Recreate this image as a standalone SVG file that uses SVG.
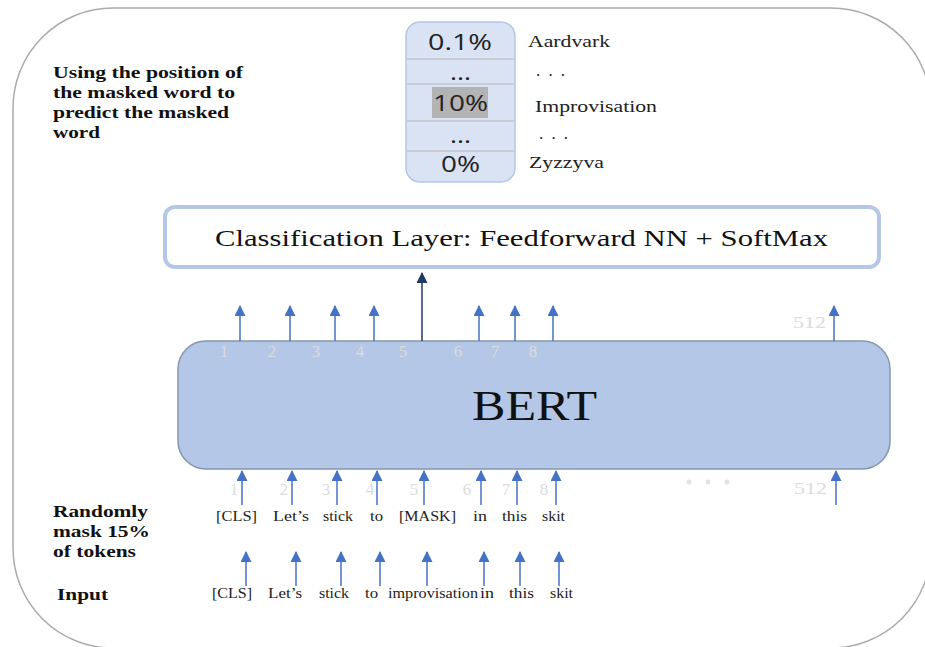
<svg xmlns="http://www.w3.org/2000/svg" width="925" height="647" viewBox="0 0 925 647">
  <style>
    .serif { font-family: "Liberation Serif", "DejaVu Serif", serif; }
    .note { font-family: "Liberation Serif", serif; font-weight: bold; font-size: 17px; fill: #111; }
    .tok { font-family: "Liberation Serif", serif; font-size: 15px; fill: #222; }
    .idx { font-family: "Liberation Serif", serif; font-size: 17px; fill: #dcdcdc; }
    .vocab { font-family: "Liberation Serif", serif; font-size: 17px; fill: #222; }
    .pct { font-family: "Open Sans", "Liberation Sans", sans-serif; font-size: 22px; fill: #222; }
    .arr { stroke: #4472c4; stroke-width: 1.5; fill: none; }
  </style>
  <defs>
    <marker id="tipBlue" markerWidth="11" markerHeight="11" refX="10" refY="5.5" orient="auto" markerUnits="userSpaceOnUse" viewBox="0 0 11 11">
      <path d="M0,0 L11,5.5 L0,11 Z" fill="#4472c4"/>
    </marker>
    <marker id="tipDark" markerWidth="11" markerHeight="11" refX="10" refY="5.5" orient="auto" markerUnits="userSpaceOnUse" viewBox="0 0 11 11">
      <path d="M0,0 L11,5.5 L0,11 Z" fill="#1f3864"/>
    </marker>
  </defs>

  <rect width="925" height="647" fill="#ffffff"/>

  <!-- outer frame -->
  <rect x="13" y="8" width="918" height="640" rx="100" ry="100" fill="none" stroke="#ababab" stroke-width="1.5"/>

  <!-- side notes -->
  <g id="note-predict" class="note" lengthAdjust="spacingAndGlyphs">
    <text x="53" y="78" textLength="190" lengthAdjust="spacingAndGlyphs">Using the position of</text>
    <text x="53" y="98" textLength="182" lengthAdjust="spacingAndGlyphs">the masked word to</text>
    <text x="53" y="118" textLength="176" lengthAdjust="spacingAndGlyphs">predict the masked</text>
    <text x="53" y="138" textLength="47" lengthAdjust="spacingAndGlyphs">word</text>
  </g>
  <g id="note-mask" class="note">
    <text x="53" y="517" textLength="95" lengthAdjust="spacingAndGlyphs">Randomly</text>
    <text x="53" y="537" textLength="97" lengthAdjust="spacingAndGlyphs">mask 15%</text>
    <text x="53" y="557" textLength="83" lengthAdjust="spacingAndGlyphs">of tokens</text>
    <text x="57" y="600" textLength="51" lengthAdjust="spacingAndGlyphs">Input</text>
  </g>

  <!-- softmax output column -->
  <g id="softmax-output">
    <rect x="406" y="22" width="109" height="160" rx="14" ry="14" fill="#dae3f3" stroke="#b4c7e7" stroke-width="1.5"/>
    <g stroke="#c9ccd4" stroke-width="2">
      <line x1="407" y1="59" x2="514" y2="59"/>
      <line x1="407" y1="84" x2="514" y2="84"/>
      <line x1="407" y1="121" x2="514" y2="121"/>
      <line x1="407" y1="151" x2="514" y2="151"/>
    </g>
    <rect x="432" y="87" width="56" height="31" fill="#b3b3b3"/>
    <text class="pct" x="428" y="50" textLength="64" lengthAdjust="spacingAndGlyphs">0.1%</text>
    <text class="pct" x="450" y="80" textLength="21" lengthAdjust="spacingAndGlyphs">...</text>
    <text class="pct" x="433" y="111" textLength="55" lengthAdjust="spacingAndGlyphs">10%</text>
    <text class="pct" x="450" y="143" textLength="21" lengthAdjust="spacingAndGlyphs">...</text>
    <text class="pct" x="441" y="172" textLength="39" lengthAdjust="spacingAndGlyphs">0%</text>
  </g>
  <g id="vocab-labels" class="vocab">
    <text x="528" y="47" textLength="82" lengthAdjust="spacingAndGlyphs">Aardvark</text>
    <text x="536" y="76" textLength="29" lengthAdjust="spacing">...</text>
    <text x="535" y="112" textLength="122" lengthAdjust="spacingAndGlyphs">Improvisation</text>
    <text x="539" y="139" textLength="29" lengthAdjust="spacing">...</text>
    <text x="529" y="168" textLength="75" lengthAdjust="spacingAndGlyphs">Zyzzyva</text>
  </g>

  <!-- classification layer -->
  <g id="classifier">
    <rect x="165" y="207" width="714" height="60" rx="10" ry="10" fill="#ffffff" stroke="#b4c7e7" stroke-width="4"/>
    <text class="serif" x="215" y="246" font-size="24" fill="#111" textLength="613" lengthAdjust="spacingAndGlyphs">Classification Layer: Feedforward NN + SoftMax</text>
  </g>

  <!-- BERT encoder -->
  <g id="bert">
    <rect x="178" y="341" width="712" height="128" rx="28" ry="28" fill="#b4c7e7" stroke="#8497b0" stroke-width="1.5"/>
    <text class="serif" x="472" y="420" font-size="42" fill="#111" textLength="125" lengthAdjust="spacingAndGlyphs">BERT</text>
  </g>

  <!-- position indices -->
  <g id="positions-top" class="idx" text-anchor="middle">
    <text x="224" y="357">1</text>
    <text x="272" y="357">2</text>
    <text x="316" y="357">3</text>
    <text x="360" y="357">4</text>
    <text x="403" y="357">5</text>
    <text x="458" y="357">6</text>
    <text x="495" y="357">7</text>
    <text x="533" y="357">8</text>
  </g>
  <text class="idx" x="793" y="328" fill="#e6e6e6" textLength="33" lengthAdjust="spacingAndGlyphs">512</text>
  <g id="positions-bottom" class="idx" text-anchor="middle">
    <text x="234" y="495">1</text>
    <text x="284" y="495">2</text>
    <text x="326" y="495">3</text>
    <text x="370" y="495">4</text>
    <text x="414" y="495">5</text>
    <text x="467" y="495">6</text>
    <text x="506" y="495">7</text>
    <text x="544" y="495">8</text>
  </g>
  <text class="idx" x="794" y="494" fill="#e6e6e6" textLength="33" lengthAdjust="spacingAndGlyphs">512</text>
  <g id="ellipsis" fill="#e3e3e3">
    <circle cx="689" cy="482" r="2.5"/>
    <circle cx="708" cy="482" r="2.5"/>
    <circle cx="727" cy="482" r="2.5"/>
  </g>

  <!-- token rows -->
  <g id="masked-tokens" class="tok">
    <text x="216" y="521" textLength="41" lengthAdjust="spacingAndGlyphs">[CLS]</text>
    <text x="273" y="521" textLength="36" lengthAdjust="spacingAndGlyphs">Let’s</text>
    <text x="323" y="521" textLength="30" lengthAdjust="spacingAndGlyphs">stick</text>
    <text x="370" y="521" textLength="13" lengthAdjust="spacingAndGlyphs">to</text>
    <text x="399" y="521" textLength="57" lengthAdjust="spacingAndGlyphs">[MASK]</text>
    <text x="473" y="521" textLength="14" lengthAdjust="spacingAndGlyphs">in</text>
    <text x="502" y="521" textLength="25" lengthAdjust="spacingAndGlyphs">this</text>
    <text x="542" y="521" textLength="23" lengthAdjust="spacingAndGlyphs">skit</text>
  </g>
  <g id="input-tokens" class="tok">
    <text x="212" y="598" textLength="40" lengthAdjust="spacingAndGlyphs">[CLS]</text>
    <text x="268" y="598" textLength="34" lengthAdjust="spacingAndGlyphs">Let’s</text>
    <text x="319" y="598" textLength="30" lengthAdjust="spacingAndGlyphs">stick</text>
    <text x="365" y="598" textLength="13" lengthAdjust="spacingAndGlyphs">to</text>
    <text x="388" y="598" textLength="90" lengthAdjust="spacingAndGlyphs">improvisation</text>
    <text x="480" y="598" textLength="14" lengthAdjust="spacingAndGlyphs">in</text>
    <text x="509" y="598" textLength="25" lengthAdjust="spacingAndGlyphs">this</text>
    <text x="550" y="598" textLength="23" lengthAdjust="spacingAndGlyphs">skit</text>
  </g>

  <!-- connectors -->
  <g id="connectors">
    <!-- BERT outputs -->
    <g class="arr" marker-end="url(#tipBlue)">
      <line x1="240" y1="341" x2="240" y2="306"/>
      <line x1="290" y1="341" x2="290" y2="306"/>
      <line x1="335" y1="341" x2="335" y2="306"/>
      <line x1="374" y1="341" x2="374" y2="306"/>
      <line x1="479" y1="341" x2="479" y2="306"/>
      <line x1="515" y1="341" x2="515" y2="306"/>
      <line x1="553" y1="341" x2="553" y2="306"/>
      <line x1="834" y1="341" x2="834" y2="306"/>
    </g>
    <line x1="422" y1="341" x2="422" y2="273" stroke="#1f3864" stroke-width="1.5" marker-end="url(#tipDark)"/>
    <!-- masked tokens into BERT -->
    <g class="arr" marker-end="url(#tipBlue)">
      <line x1="242" y1="505" x2="242" y2="471"/>
      <line x1="292" y1="505" x2="292" y2="471"/>
      <line x1="337" y1="505" x2="337" y2="471"/>
      <line x1="377" y1="505" x2="377" y2="471"/>
      <line x1="424" y1="505" x2="424" y2="471"/>
      <line x1="481" y1="505" x2="481" y2="471"/>
      <line x1="517" y1="505" x2="517" y2="471"/>
      <line x1="556" y1="505" x2="556" y2="471"/>
      <line x1="836" y1="505" x2="836" y2="471"/>
    </g>
    <!-- input tokens to masked tokens -->
    <g class="arr" marker-end="url(#tipBlue)">
      <line x1="246" y1="586" x2="246" y2="552"/>
      <line x1="296" y1="586" x2="296" y2="552"/>
      <line x1="341" y1="586" x2="341" y2="552"/>
      <line x1="380" y1="586" x2="380" y2="552"/>
      <line x1="427" y1="586" x2="427" y2="552"/>
      <line x1="484" y1="586" x2="484" y2="552"/>
      <line x1="520" y1="586" x2="520" y2="552"/>
      <line x1="559" y1="586" x2="559" y2="552"/>
    </g>
  </g>
</svg>
